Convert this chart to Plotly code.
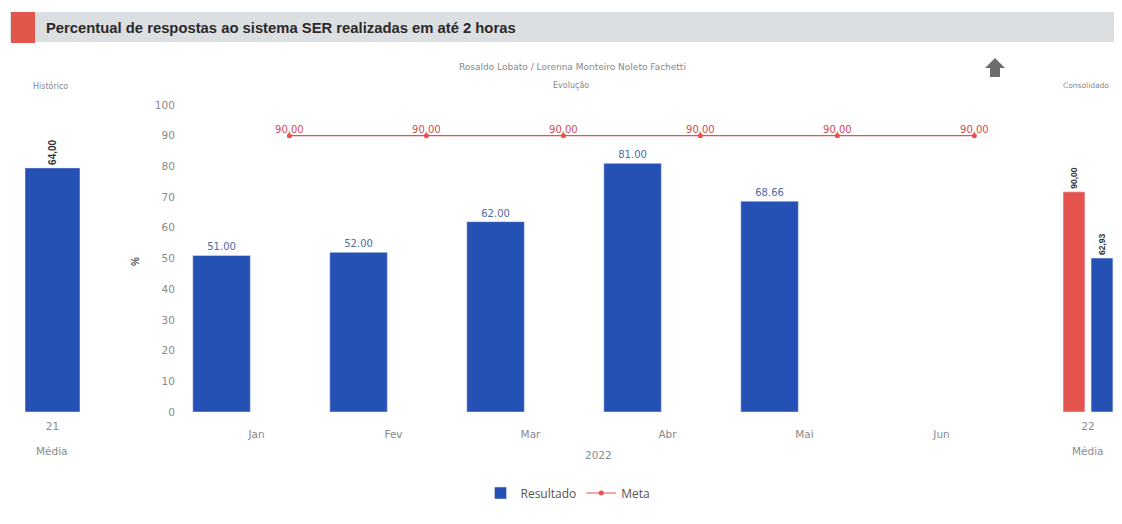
import plotly.graph_objects as go

# ---------------- data ----------------
months = ["Jan", "Fev", "Mar", "Abr", "Mai", "Jun"]
resultado = [51.00, 52.00, 62.00, 81.00, 68.66]
meta = [90.00, 90.00, 90.00, 90.00, 90.00, 90.00]
hist_label = ["21"]
hist_value = [64.00]
cons_label = ["22"]
cons_meta = [90.00]
cons_result = [62.93]
y_ticks = [0, 10, 20, 30, 40, 50, 60, 70, 80, 90, 100]

W, H = 1122, 524
OFF = 8  # page body margin
def px(x):
    return (x - OFF) / W
def py(y):
    return 1 - (y - OFF) / H

BLUE = "#2451b3"
RED = "#e5534f"
GRAY = "#8a8a8a"

def fmt_comma(v):
    return f"{v:.2f}".replace(".", ",")

fig = go.Figure()

idx = list(range(len(months)))

# middle panel
fig.add_trace(go.Bar(
    x=[i - 0.255 for i in idx[:len(resultado)]], y=resultado, width=0.42,
    name="Resultado", marker=dict(color=BLUE),
    text=[f"{v:.2f}" for v in resultado], textposition="outside",
    textfont=dict(size=10, color="#4f6aa3", family="DejaVu Sans"),
    cliponaxis=False, xaxis="x", yaxis="y", showlegend=True,
))
fig.add_trace(go.Scatter(
    x=[i + 0.24 for i in idx], y=meta, mode="lines+markers",
    name="Meta", line=dict(color=RED, width=1.2),
    marker=dict(color=RED, size=5),
    cliponaxis=False, xaxis="x", yaxis="y",
))
fig.add_trace(go.Scatter(
    x=[i + 0.24 for i in idx], y=meta, mode="text",
    text=[fmt_comma(v) for v in meta], textposition="top center",
    textfont=dict(size=10, color="#d04a55", family="DejaVu Sans"),
    cliponaxis=False, xaxis="x", yaxis="y", showlegend=False, hoverinfo="skip",
))

# left panel (Histórico)
fig.add_trace(go.Bar(
    x=[0], y=hist_value, width=1, marker=dict(color=BLUE),
    text=[fmt_comma(v) for v in hist_value], textposition="outside",
    textangle=-90, textfont=dict(size=10, color="#333", family="Liberation Sans"),
    texttemplate="<b>%{text}</b>",
    cliponaxis=False, xaxis="x2", yaxis="y2", showlegend=False,
))

# right panel (Consolidado)
fig.add_trace(go.Bar(
    x=[-0.25], y=cons_meta, width=0.39, marker=dict(color=RED),
    text=[fmt_comma(v) for v in cons_meta], textposition="outside",
    textangle=-90, texttemplate="<b>%{text}</b>",
    textfont=dict(size=10, color="#333", family="Liberation Sans"),
    cliponaxis=False, xaxis="x3", yaxis="y3", showlegend=False,
))
fig.add_trace(go.Bar(
    x=[0.25], y=cons_result, width=0.39, marker=dict(color=BLUE),
    text=[fmt_comma(v) for v in cons_result], textposition="outside",
    textangle=-90, texttemplate="<b>%{text}</b>",
    textfont=dict(size=10, color="#333", family="Liberation Sans"),
    cliponaxis=False, xaxis="x3", yaxis="y3", showlegend=False,
))

ydom = [py(412), py(105)]
tickfont = dict(size=10.5, color=GRAY, family="DejaVu Sans")

fig.update_layout(
    width=W, height=H,
    margin=dict(l=0, r=0, t=0, b=0, autoexpand=False),
    paper_bgcolor="white", plot_bgcolor="white",
    barmode="overlay",
    font=dict(family="DejaVu Sans", color=GRAY),
    xaxis=dict(domain=[px(188), px(1010)], range=[-0.5, 5.5],
               tickvals=idx, ticktext=months, tickfont=tickfont,
               ticks="outside", ticklen=12, tickcolor="rgba(0,0,0,0)",
               showgrid=False, zeroline=False, showline=False, fixedrange=True,
               automargin=False),
    yaxis=dict(domain=ydom, range=[0, 100], tickvals=y_ticks, tickfont=tickfont,
               ticks="outside", ticklen=10, tickcolor="rgba(0,0,0,0)",
               showgrid=False, zeroline=False, showline=False, automargin=False),
    xaxis2=dict(domain=[px(25), px(80)], range=[-0.5, 0.5], anchor="y2",
                tickvals=[0], ticktext=hist_label, tickfont=tickfont,
                ticks="outside", ticklen=4, tickcolor="rgba(0,0,0,0)",
                showgrid=False, zeroline=False, showline=False, automargin=False),
    yaxis2=dict(domain=ydom, range=[0, 80.5], anchor="x2", visible=False),
    xaxis3=dict(domain=[px(1060), px(1116)], range=[-0.5, 0.5], anchor="y3",
                tickvals=[0], ticktext=cons_label, tickfont=tickfont,
                ticks="outside", ticklen=4, tickcolor="rgba(0,0,0,0)",
                showgrid=False, zeroline=False, showline=False, automargin=False),
    yaxis3=dict(domain=ydom, range=[0, 125.5], anchor="x3", visible=False),
    legend=dict(orientation="h", x=px(568), y=py(493), xanchor="center",
                yanchor="middle",
                font=dict(size=12, color="#555", family="Open Sans"),
                tracegroupgap=0),
)

shapes = [
    dict(type="rect", xref="paper", yref="paper", x0=px(10), x1=px(1120),
         y0=py(42), y1=py(12), fillcolor="#dcdfe2", line=dict(width=0), layer="below"),
    dict(type="rect", xref="paper", yref="paper", x0=px(11), x1=px(35),
         y0=py(43), y1=py(12), fillcolor="#e2574c", line=dict(width=0)),
]
# up arrow icon
ax, ay = 995, 68
pts = [(ax, ay - 10), (ax + 10, ay), (ax + 5, ay), (ax + 5, ay + 9),
       (ax - 5, ay + 9), (ax - 5, ay), (ax - 10, ay)]
path = "M " + " L ".join(f"{px(x)},{py(y)}" for x, y in pts) + " Z"
shapes.append(dict(type="path", xref="paper", yref="paper", path=path,
                   fillcolor="#6d6d6d", line=dict(width=0)))
fig.update_layout(shapes=shapes)

small = dict(size=8, color="#888", family="DejaVu Sans")
annotations = [
    dict(text="<b>Percentual de respostas ao sistema SER realizadas em até 2 horas</b>",
         x=px(44), y=py(28), xanchor="left", yanchor="middle",
         font=dict(size=14.8, color="#2a2a2a", family="Liberation Sans")),
    dict(text="Rosaldo Lobato / Lorenna Monteiro Noleto Fachetti", x=px(572), y=py(67),
         xanchor="center", yanchor="middle", font=dict(size=9, color="#888", family="DejaVu Sans")),
    dict(text="Evolução", x=px(571), y=py(86), xanchor="center", yanchor="middle", font=small),
    dict(text="Histórico", x=px(50), y=py(86), xanchor="center", yanchor="middle", font=small),
    dict(text="Consolidado", x=px(1111), y=py(86), xanchor="right", yanchor="middle",
         font=dict(size=7.5, color="#888", family="DejaVu Sans")),
    dict(text="<b>%</b>", x=px(135), y=py(262), xanchor="center", yanchor="middle",
         textangle=-90, font=dict(size=10, color="#555", family="Liberation Sans")),
    dict(text="2022", x=px(598), y=py(455), xanchor="center", yanchor="middle", font=tickfont),
    dict(text="Média", x=px(52), y=py(451), xanchor="center", yanchor="middle", font=tickfont),
    dict(text="Média", x=px(1088), y=py(451), xanchor="center", yanchor="middle", font=tickfont),
]
for a in annotations:
    a.update(xref="paper", yref="paper", showarrow=False)
fig.update_layout(annotations=annotations)

fig.write_html("out.html")
